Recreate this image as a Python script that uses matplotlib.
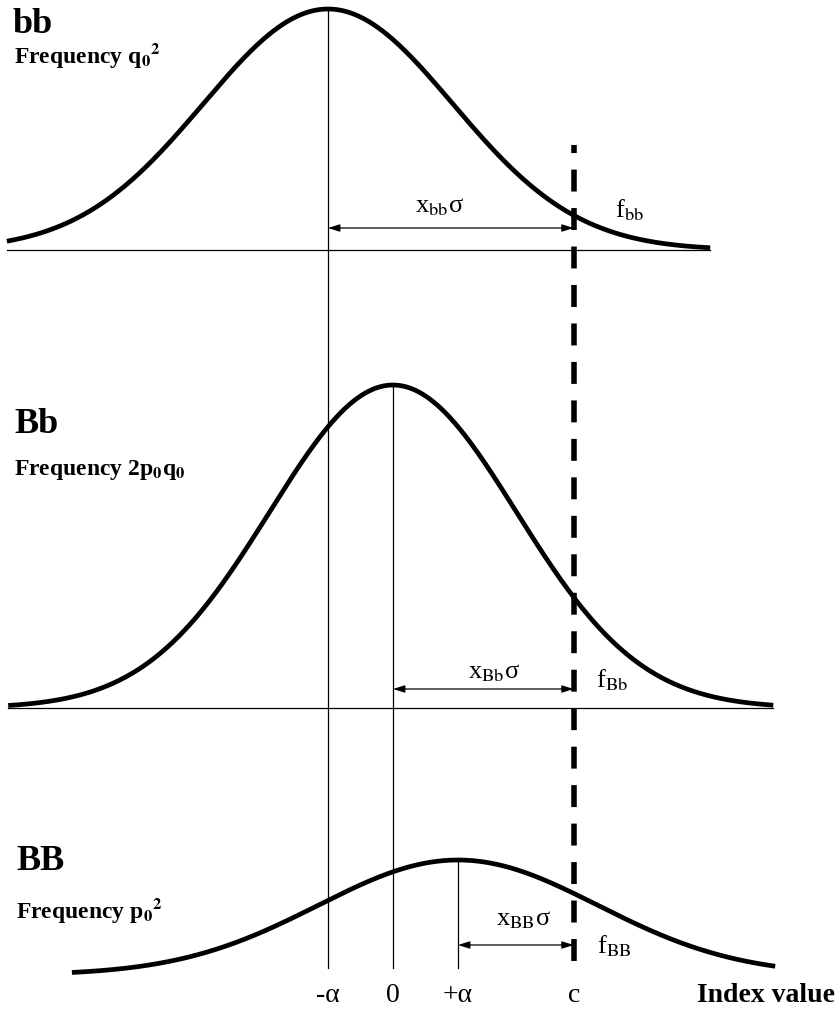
import numpy as np
import matplotlib
matplotlib.use("Agg")
import matplotlib.pyplot as plt

plt.rcParams['font.family'] = ['Liberation Serif', 'DejaVu Serif']
plt.rcParams['mathtext.fontset'] = 'stix'
plt.rcParams['lines.scale_dashes'] = False

# ---------------- data (index units: alpha = 1) ----------------
genotypes = ["bb", "Bb", "BB"]
freq_labels = ["Frequency q$_{\\mathbf{0}}$$^{\\mathbf{2}}$",
               "Frequency 2p$_{\\mathbf{0}}$q$_{\\mathbf{0}}$",
               "Frequency p$_{\\mathbf{0}}$$^{\\mathbf{2}}$"]
means = [-1.0, 0.0, 1.0]
sigmas = [1.92, 1.90, 2.15]
peak_heights = [241, 323, 115]
x_starts = [-5.94, -5.92, -4.94]
x_ends = [4.88, 5.85, 5.88]
cutoff = 2.78
tick_positions = [-1.0, 0.0, 1.0, cutoff]
tick_labels = ["-\u03b1", "0", "+\u03b1", "c"]
dist_labels = ["x$_{\\mathrm{bb}}$\u03c3", "x$_{\\mathrm{Bb}}$\u03c3", "x$_{\\mathrm{BB}}$\u03c3"]
tail_labels = ["f$_{\\mathrm{bb}}$", "f$_{\\mathrm{Bb}}$", "f$_{\\mathrm{BB}}$"]

# ---------------- layout ----------------
W, H = 838, 1009
PX = 65.0          # pixels per alpha
X0 = 393.0         # pixel x of zero


def py(p):  # pixel-from-top -> data y
    return H - p


def dx(p):  # pixel x -> data x
    return (p - X0) / PX


baselines_px = [250, 708, 975]
draw_baseline = [True, True, False]
label_px = [(13, 33), (14, 433), (16, 870)]
freq_px = [(14, 63), (14, 475), (16, 918)]
dist_text_px = [(440, 212), (494, 678), (524, 925)]
tail_text_px = [(615, 217), (596, 687), (597, 953)]
arrow_y_px = [228, 689, 945]
line_bottom_px = 968

fig = plt.figure(figsize=(W / 100, H / 100), dpi=100)
ax = fig.add_axes([0, 0, 1, 1])
ax.set_xlim(dx(0), dx(W))
ax.set_ylim(0, H)
ax.axis('off')

for i in range(3):
    base = py(baselines_px[i])
    xs = np.linspace(x_starts[i], x_ends[i], 600)
    ys = base + peak_heights[i] * np.exp(-0.5 * ((xs - means[i]) / sigmas[i]) ** 2)
    ax.plot(xs, ys, color='black', lw=3.4, solid_capstyle='butt', zorder=3)
    if draw_baseline[i]:
        ax.plot([x_starts[i], x_ends[i]], [base, base], color='black', lw=0.9, zorder=2)
    # vertical line at mean from peak to bottom
    ax.plot([means[i], means[i]], [base + peak_heights[i], py(line_bottom_px)],
            color='black', lw=0.9, zorder=2)
    # arrow mean -> cutoff
    ax.annotate('', xy=(cutoff, py(arrow_y_px[i])), xytext=(means[i], py(arrow_y_px[i])),
                arrowprops=dict(arrowstyle='<|-|>,head_length=0.7,head_width=0.22',
                                color='black', lw=0.9, shrinkA=0, shrinkB=0))
    ax.text(dx(label_px[i][0]), py(label_px[i][1]), genotypes[i], fontsize=26,
            fontweight='bold', ha='left', va='baseline')
    ax.text(dx(freq_px[i][0]), py(freq_px[i][1]), freq_labels[i], fontsize=17,
            fontweight='bold', ha='left', va='baseline')
    ax.text(dx(dist_text_px[i][0]), py(dist_text_px[i][1]), dist_labels[i], fontsize=19,
            ha='center', va='baseline')
    ax.text(dx(tail_text_px[i][0]), py(tail_text_px[i][1]), tail_labels[i], fontsize=19,
            ha='left', va='baseline')

# dashed cut-off line
ax.plot([cutoff, cutoff], [py(145), py(962)], color='black', lw=4.0,
        linestyle=(10.0, (15.8, 11.9)), dash_capstyle='butt', zorder=4)

for xp, lab in zip(tick_positions, tick_labels):
    ax.text(xp, py(1002), lab, fontsize=20, ha='center', va='baseline')
ax.text(dx(697), py(1002), "Index value", fontsize=20, fontweight='bold',
        ha='left', va='baseline')

fig.savefig("out.png", dpi=100, facecolor='white')
